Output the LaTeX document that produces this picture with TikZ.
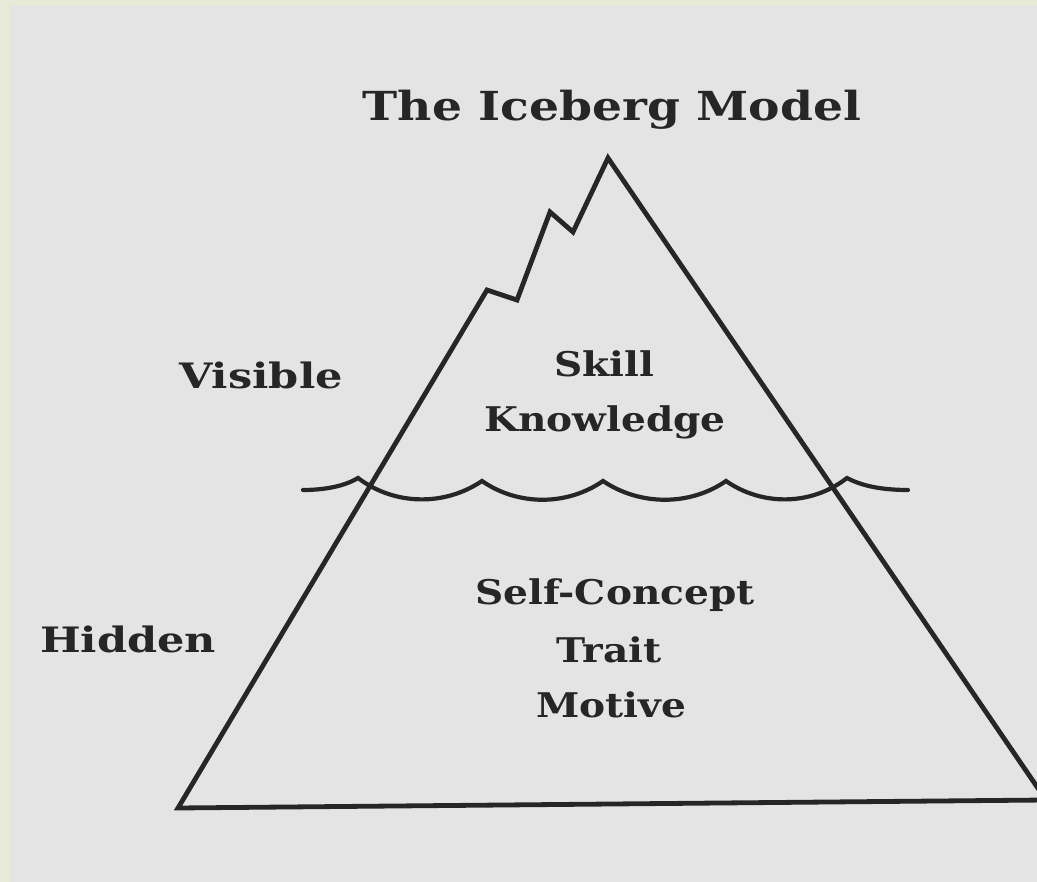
\documentclass[tikz,border=0pt]{standalone}
\usepackage{fontspec}
\setmainfont{DejaVu Serif}
\newfontfamily\titlefont[FakeStretch=1.18]{DejaVu Serif}
\newfontfamily\innerfont[FakeStretch=1.15]{DejaVu Serif}
\newfontfamily\sidefont[FakeStretch=1.23]{DejaVu Serif}
\definecolor{outerbg}{HTML}{E8EAD9}
\definecolor{innerbg}{HTML}{E4E4E4}
\definecolor{ink}{HTML}{262626}
\tikzset{
  lbl/.style={text=ink, font=\innerfont\bfseries\fontsize{34}{38}\selectfont, inner sep=0pt, anchor=base},
  side/.style={text=ink, font=\sidefont\bfseries\fontsize{35}{39}\selectfont, inner sep=0pt, anchor=base},
  ttl/.style={text=ink, font=\titlefont\bfseries\fontsize{40}{44}\selectfont, inner sep=0pt, anchor=base},
  berg/.style={draw=ink, line width=4.8pt, line join=miter, line cap=round},
  wave/.style={draw=ink, line width=4.2pt, line cap=round}
}
\begin{document}
\begin{tikzpicture}[x=1pt,y=-1pt]
\useasboundingbox (0,0) rectangle (1037,882);
\fill[outerbg] (0,0) rectangle (1037,882);
\fill[innerbg] (11,6) rectangle (1037,882);
\begin{scope}
\clip (0,0) rectangle (1037,882);
\draw[berg] (178,808) -- (487,290) -- (517,300) -- (550,212) -- (573,232) -- (608,158) -- (1046,800) -- cycle;
\end{scope}
\draw[wave] (303,490) .. controls (325,490) and (345,486) .. (358,478)
  .. controls (395,506) and (445,506) .. (482,481)
  .. controls (518,506) and (567,506) .. (603,481)
  .. controls (640,506) and (690,506) .. (726,481)
  .. controls (762,506) and (811,506) .. (847,478)
  .. controls (862,486) and (882,490) .. (908,490);
\node[ttl] (title) at (612,121) {The Iceberg Model};
\node[side] (visible) at (261,389) {Visible};
\node[side] (hidden) at (128,652) {Hidden};
\node[lbl] (skill) at (604,377) {Skill};
\node[lbl] (knowledge) at (605,432) {Knowledge};
\node[lbl] (selfconcept) at (615,605) {Self-Concept};
\node[lbl] (trait) at (609,662) {Trait};
\node[lbl] (motive) at (611,717) {Motive};
\end{tikzpicture}
\end{document}
